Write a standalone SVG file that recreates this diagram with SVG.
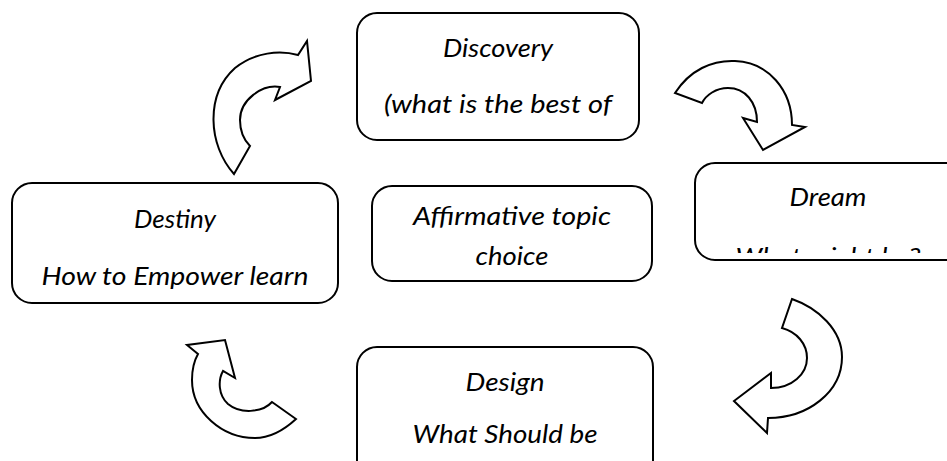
<svg xmlns="http://www.w3.org/2000/svg" width="947" height="461" viewBox="0 0 947 461">
  <style>
    .box { fill: #ffffff; stroke: #000000; stroke-width: 2; }
    .arrow { fill: #ffffff; stroke: #000000; stroke-width: 2; stroke-linejoin: miter; }
    .lbl { font-family: Lato, "Liberation Sans", sans-serif; font-style: italic; font-size: 26px; fill: #000000; text-anchor: middle; }
  </style>
  <defs>
    <clipPath id="dreamClip">
      <rect x="690" y="160" width="260" height="93"/>
    </clipPath>
  </defs>
  <rect width="947" height="461" fill="#ffffff"/>

  <g id="connectors">
    <!-- Destiny to Discovery -->
    <path class="arrow" d="M234,174 C208,145 205,95 235,68 C255,52 280,50 298,55 L307,41 L311,81 L275,100 L280,87 C262,84 240,100 240,120 C240,132 244,140 250,146 Z"/>
    <!-- Discovery to Dream -->
    <path class="arrow" d="M675,93 C690,70 712,60 735,61 C768,62 792,90 792,125 L805,127 L763,150 L743,118 L757,122 C757,102 745,88 728,88 C716,88 706,95 702,103 Z"/>
    <!-- Dream to Design -->
    <path class="arrow" d="M792,299 C818,308 842,330 842,357 C842,392 808,418 768,418 L767,433 L734,401 L771,373 L771,388 C792,388 807,374 807,358 C807,344 797,332 782,328 Z"/>
    <!-- Design to Destiny -->
    <path class="arrow" d="M296,419 C283,431 270,438 255,438 C222,438 192,412 192,380 C192,370 194,361 198,354 L187,345 L225,340 L235,378 L223,371 C218,380 218,395 228,404 C240,414 262,413 272,402 Z"/>
  </g>

  <g id="discovery">
    <rect class="box" x="357" y="13" width="282" height="127" rx="20"/>
    <text class="lbl" x="498" y="57" textLength="110" lengthAdjust="spacingAndGlyphs">Discovery</text>
    <text class="lbl" x="498" y="113" textLength="228" lengthAdjust="spacingAndGlyphs">(what is the best of</text>
  </g>

  <g id="dream">
    <rect class="box" x="695" y="163" width="270" height="97" rx="20"/>
    <text class="lbl" x="828" y="206" textLength="77" lengthAdjust="spacingAndGlyphs">Dream</text>
    <text class="lbl" x="828" y="266" textLength="185" lengthAdjust="spacingAndGlyphs" clip-path="url(#dreamClip)">What might be?</text>
  </g>

  <g id="affirmative">
    <rect class="box" x="372" y="186" width="280" height="95" rx="20"/>
    <text class="lbl" x="512" y="225" textLength="198" lengthAdjust="spacingAndGlyphs">Affirmative topic</text>
    <text class="lbl" x="512" y="265" textLength="73" lengthAdjust="spacingAndGlyphs">choice</text>
  </g>

  <g id="destiny">
    <rect class="box" x="12" y="183" width="326" height="120" rx="20"/>
    <text class="lbl" x="175" y="228" textLength="82" lengthAdjust="spacingAndGlyphs">Destiny</text>
    <text class="lbl" x="175" y="285" textLength="267" lengthAdjust="spacingAndGlyphs">How to Empower learn</text>
  </g>

  <g id="design">
    <rect class="box" x="357" y="347" width="296" height="140" rx="20"/>
    <text class="lbl" x="505" y="391" textLength="79" lengthAdjust="spacingAndGlyphs">Design</text>
    <text class="lbl" x="505" y="443" textLength="185" lengthAdjust="spacingAndGlyphs">What Should be</text>
  </g>
</svg>
